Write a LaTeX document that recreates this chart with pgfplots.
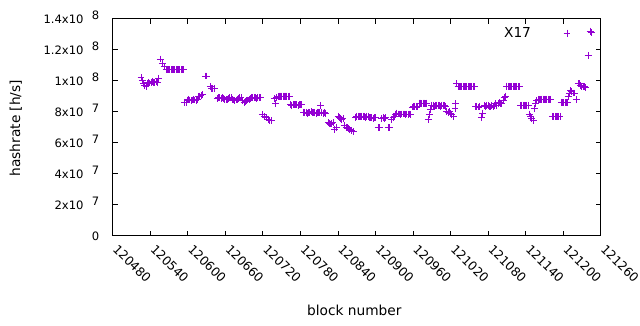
\documentclass[border=0pt]{standalone}
\usepackage{pgfplots}
\pgfplotsset{compat=1.18}
\usepackage{pgfplotstable}
\usepackage{fontspec}
\setmainfont{DejaVu Sans}
\usetikzlibrary{calc}
\definecolor{gpviolet}{HTML}{9400D3}
\newcommand{\gpfont}{\fontsize{14}{16}\selectfont}
\newcommand{\gptick}{\fontsize{11.8}{14}\selectfont}
\newcommand{\gpxtick}{\fontsize{12.6}{14}\selectfont}
\newcommand{\sx}[2]{#1x10\hspace{8.5bp}\raisebox{4.4bp}{\smash{#2}}}
\pgfplotstableread{
x y
120525 10.2e7
120527 10.0e7
120529 9.85e7
120531 9.7e7
120533 9.6e7
120535 9.8e7
120537 9.9e7
120539 9.85e7
120541 9.9e7
120543 9.95e7
120545 9.9e7
120547 9.9e7
120549 9.95e7
120551 9.9e7
120553 10.15e7
120556 11.4e7
120559 11.1e7
120562 10.9e7
120565 10.7e7
120567 10.7e7
120569 10.7e7
120571 10.7e7
120573 10.7e7
120575 10.7e7
120577 10.7e7
120579 10.7e7
120581 10.7e7
120583 10.7e7
120585 10.7e7
120587 10.7e7
120589 10.7e7
120591 10.7e7
120593 10.7e7
120595 8.6e7
120597 8.6e7
120599 8.75e7
120601 8.8e7
120603 8.75e7
120605 8.7e7
120607 8.75e7
120609 8.8e7
120611 8.75e7
120613 8.7e7
120615 8.8e7
120617 8.95e7
120619 9.0e7
120621 9.05e7
120623 9.1e7
120628 10.3e7
120630 10.3e7
120636 9.6e7
120638 9.5e7
120640 9.5e7
120642 9.5e7
120647 8.85e7
120649 8.9e7
120651 8.9e7
120653 8.85e7
120655 8.9e7
120657 8.85e7
120659 8.8e7
120661 8.8e7
120663 8.8e7
120665 8.85e7
120667 8.9e7
120669 8.9e7
120671 8.8e7
120673 8.75e7
120675 8.7e7
120677 8.75e7
120679 8.8e7
120681 8.85e7
120683 8.9e7
120685 8.9e7
120688 8.7e7
120690 8.6e7
120692 8.65e7
120694 8.7e7
120696 8.75e7
120698 8.8e7
120700 8.85e7
120702 8.9e7
120704 8.9e7
120706 8.9e7
120708 8.9e7
120710 8.85e7
120712 8.9e7
120714 8.9e7
120716 8.9e7
120719 7.8e7
120722 7.7e7
120725 7.6e7
120728 7.5e7
120731 7.45e7
120734 7.4e7
120738 8.85e7
120740 8.5e7
120742 8.9e7
120744 8.95e7
120746 9.0e7
120748 9.0e7
120750 9.0e7
120752 9.0e7
120754 9.0e7
120756 9.0e7
120758 9.0e7
120760 8.95e7
120762 9.0e7
120764 8.45e7
120766 8.4e7
120768 8.45e7
120770 8.45e7
120772 8.45e7
120774 8.45e7
120776 8.4e7
120778 8.45e7
120780 8.45e7
120782 8.45e7
120785 7.95e7
120787 7.95e7
120789 7.95e7
120791 7.9e7
120793 7.95e7
120795 7.95e7
120797 8.0e7
120799 7.95e7
120801 7.95e7
120803 7.95e7
120805 7.9e7
120807 7.95e7
120809 7.95e7
120811 7.95e7
120812 8.4e7
120814 7.95e7
120816 7.9e7
120818 7.95e7
120820 7.9e7
120824 7.3e7
120826 7.25e7
120828 7.2e7
120830 7.25e7
120832 7.3e7
120835 6.85e7
120837 7.0e7
120840 7.7e7
120842 7.6e7
120844 7.55e7
120846 7.5e7
120848 7.55e7
120851 7.1e7
120853 7.0e7
120855 6.95e7
120857 6.9e7
120859 6.85e7
120861 6.8e7
120865 6.7e7
120868 7.65e7
120870 7.7e7
120872 7.7e7
120874 7.7e7
120876 7.7e7
120878 7.7e7
120880 7.7e7
120882 7.7e7
120884 7.65e7
120886 7.7e7
120888 7.7e7
120890 7.6e7
120892 7.6e7
120894 7.6e7
120896 7.55e7
120898 7.6e7
120900 7.6e7
120904 6.95e7
120906 6.95e7
120910 7.55e7
120912 7.6e7
120914 7.55e7
120916 7.6e7
120920 6.95e7
120922 6.95e7
120926 7.5e7
120928 7.6e7
120930 7.7e7
120932 7.85e7
120934 7.9e7
120936 7.85e7
120938 7.85e7
120940 7.8e7
120942 7.85e7
120944 7.85e7
120946 7.85e7
120948 7.8e7
120950 7.85e7
120952 7.8e7
120954 7.85e7
120956 7.8e7
120959 8.3e7
120961 8.35e7
120963 8.35e7
120965 8.3e7
120967 8.35e7
120970 8.55e7
120972 8.55e7
120974 8.5e7
120976 8.55e7
120978 8.55e7
120980 8.5e7
120982 8.55e7
120984 7.5e7
120986 7.8e7
120988 8.15e7
120990 8.4e7
120992 8.4e7
120994 8.35e7
120996 8.4e7
120998 8.4e7
121000 8.4e7
121002 8.4e7
121004 8.35e7
121006 8.4e7
121008 8.4e7
121010 8.4e7
121012 8.35e7
121014 8.0e7
121016 7.95e7
121018 8.0e7
121020 7.9e7
121022 7.8e7
121025 7.7e7
121027 8.2e7
121028 8.5e7
121030 9.8e7
121032 9.6e7
121034 9.6e7
121036 9.6e7
121038 9.6e7
121040 9.6e7
121042 9.6e7
121044 9.6e7
121046 9.6e7
121048 9.6e7
121050 9.6e7
121052 9.6e7
121054 9.6e7
121056 9.6e7
121058 9.6e7
121060 8.35e7
121062 8.35e7
121064 8.3e7
121066 8.35e7
121069 7.6e7
121071 7.9e7
121074 8.4e7
121076 8.35e7
121078 8.4e7
121080 8.4e7
121082 8.35e7
121084 8.3e7
121086 8.4e7
121088 8.35e7
121090 8.4e7
121092 8.5e7
121094 8.4e7
121096 8.5e7
121098 8.6e7
121100 8.55e7
121102 8.5e7
121104 8.7e7
121106 8.9e7
121108 9.0e7
121110 9.65e7
121112 9.6e7
121114 9.6e7
121116 9.6e7
121118 9.6e7
121120 9.6e7
121122 9.6e7
121124 9.6e7
121126 9.6e7
121128 9.6e7
121130 9.6e7
121132 8.4e7
121134 8.4e7
121136 8.4e7
121138 8.4e7
121140 8.4e7
121142 8.4e7
121144 8.4e7
121146 7.85e7
121148 7.7e7
121150 7.55e7
121152 7.4e7
121154 8.2e7
121156 8.5e7
121158 8.7e7
121160 8.8e7
121162 8.8e7
121164 8.8e7
121166 8.8e7
121168 8.8e7
121170 8.8e7
121172 8.8e7
121174 8.8e7
121176 8.8e7
121178 8.8e7
121180 8.8e7
121183 7.7e7
121185 7.7e7
121187 7.7e7
121189 7.7e7
121191 7.7e7
121193 7.7e7
121195 7.7e7
121197 8.6e7
121199 8.6e7
121201 8.6e7
121203 8.6e7
121205 8.6e7
121207 8.6e7
121208 9.0e7
121210 9.2e7
121212 9.35e7
121214 9.3e7
121216 9.2e7
121218 9.2e7
121221 8.8e7
121224 9.8e7
121226 9.8e7
121228 9.7e7
121230 9.6e7
121232 9.6e7
121234 9.6e7
121236 9.55e7
121240 11.6e7
121243 13.2e7
121245 13.1e7
}\hashdata
\begin{document}
\begin{tikzpicture}[font=\gpfont]
\begin{axis}[
  scale only axis,
  width=495.1bp, height=220bp,
  xmin=120480, xmax=121260,
  ymin=0, ymax=1.4e8,
  xtick={120480,120540,120600,120660,120720,120780,120840,120900,120960,121020,121080,121140,121200,121260},
  xticklabels={120480,120540,120600,120660,120720,120780,120840,120900,120960,121020,121080,121140,121200,121260},
  ytick={0,2e7,4e7,6e7,8e7,1e8,1.2e8,1.4e8},
  yticklabels={0,\sx{2}{7},\sx{4}{7},\sx{6}{7},\sx{8}{7},\sx{1}{8},\sx{1.2}{8},\sx{1.4}{8}},
  scaled x ticks=false, scaled y ticks=false,
  yticklabel style={font=\gptick, anchor=east, xshift=-13.5bp, yshift=-1bp, inner sep=0pt},
  xticklabel style={font=\gpxtick, xshift=6bp, yshift=-8bp, rotate=-45, anchor=north west, inner sep=0pt},
  label style={font=\gpfont},
  tick align=inside, tick pos=both,
  major tick length=5bp,
  axis line style={line width=0.9bp},
  every tick/.style={black, line width=0.9bp},
  xlabel={block number},
  ylabel={hashrate [h/s]},
  xlabel style={at={(axis description cs:0.495,-0.347)}, anchor=center},
  ylabel style={at={(axis description cs:-0.199,0.495)}, anchor=center},
  legend plot pos=right,
  legend image code/.code={\path[draw=none,fill=none] (0cm,0cm) -- (1.32cm,0cm); \draw[#1] plot coordinates {(1.22cm,0cm)};},
  legend style={draw=none, fill=none, at={(axis description cs:0.9445,0.979)}, anchor=north east, font=\gpfont},
  clip=false,
]
\addplot[only marks, mark=+, mark size=3.5bp, color=gpviolet, line width=0.9bp] table[x=x,y=y] {\hashdata};
\addlegendentry{X17}
\end{axis}
\path[use as bounding box] ($(current axis.south west)+(-114.5bp,-91bp)$) rectangle ($(current axis.north east)+(30.4bp,19bp)$);
\end{tikzpicture}
\end{document}
